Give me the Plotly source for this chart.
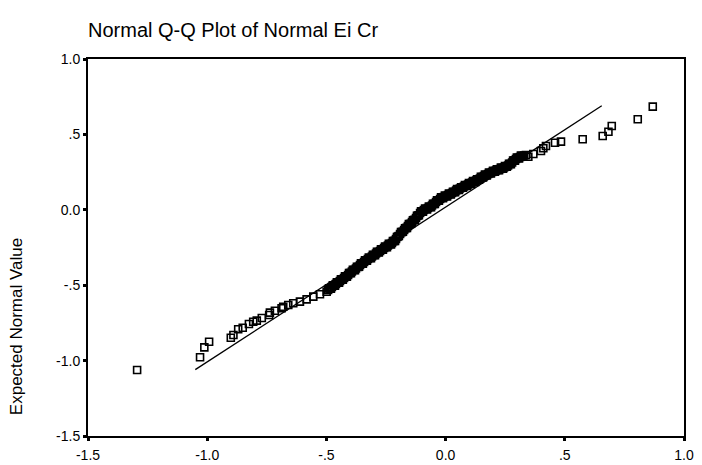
import plotly.graph_objects as go

obs_x = [
    -1.294, -1.030, -1.012, -0.992, -0.901, -0.890, -0.870, -0.851, -0.825, -0.807,
    -0.792, -0.771, -0.740, -0.737, -0.716, -0.688, -0.681, -0.660, -0.639, -0.611,
    -0.583, -0.555, -0.527, -0.499,
    -0.493, -0.485, -0.477, -0.468, -0.460, -0.451, -0.443,
    -0.435, -0.426, -0.418, -0.409, -0.401, -0.393, -0.384, -0.376, -0.367, -0.359,
    -0.351, -0.342, -0.334, -0.326, -0.317, -0.309, -0.300, -0.292, -0.284, -0.275,
    -0.267, -0.258, -0.250, -0.242, -0.233, -0.225,
    -0.216, -0.208, -0.200, -0.191, -0.183, -0.174,
    -0.166, -0.158, -0.149, -0.141, -0.133, -0.124, -0.116, -0.107,
    -0.099, -0.091, -0.082, -0.074, -0.065, -0.057, -0.049, -0.040, -0.032, -0.023, -0.015,
    -0.007, 0.002, 0.010, 0.018, 0.027, 0.035, 0.044, 0.052, 0.060, 0.069, 0.077, 0.086,
    0.094, 0.102, 0.111,
    0.119, 0.128, 0.136, 0.144, 0.153, 0.161, 0.169, 0.178, 0.186, 0.195, 0.203, 0.211,
    0.220, 0.228, 0.237, 0.245, 0.253,
    0.262, 0.270, 0.279, 0.287, 0.295, 0.304, 0.312, 0.320, 0.329, 0.337,
    0.347, 0.368, 0.400, 0.410, 0.421, 0.459, 0.484, 0.575, 0.659, 0.683, 0.697, 0.806, 0.869,
]
exp_y = [
    -1.062, -0.978, -0.912, -0.875, -0.848, -0.830, -0.792, -0.782, -0.757, -0.742,
    -0.735, -0.718, -0.698, -0.682, -0.669, -0.653, -0.643, -0.631, -0.620, -0.609,
    -0.594, -0.576, -0.560, -0.543,
    -0.532, -0.522, -0.512, -0.502, -0.492, -0.482, -0.472,
    -0.462, -0.452, -0.442, -0.432, -0.419, -0.409, -0.399, -0.389, -0.379, -0.366,
    -0.356, -0.346, -0.336, -0.326, -0.320, -0.310, -0.300, -0.290, -0.280, -0.273,
    -0.263, -0.253, -0.247, -0.237, -0.227, -0.220,
    -0.207, -0.194, -0.177, -0.160, -0.147, -0.134,
    -0.121, -0.107, -0.094, -0.081, -0.068, -0.054, -0.038, -0.021,
    -0.011, -0.001, 0.005, 0.012, 0.019, 0.029, 0.038, 0.052, 0.062, 0.072, 0.082,
    0.085, 0.092, 0.098, 0.105, 0.111, 0.118, 0.128, 0.135, 0.141, 0.148, 0.155, 0.161,
    0.168, 0.174, 0.181,
    0.188, 0.194, 0.201, 0.208, 0.218, 0.224, 0.231, 0.237, 0.244, 0.251, 0.254, 0.261,
    0.264, 0.271, 0.277, 0.281, 0.287,
    0.294, 0.304, 0.314, 0.327, 0.337, 0.344, 0.350, 0.357, 0.360, 0.363,
    0.352, 0.370, 0.390, 0.408, 0.423, 0.445, 0.452, 0.468, 0.489, 0.518, 0.556, 0.600, 0.684,
]

# Further observations packed inside the dense central band
band_x = [
    -0.489, -0.481, -0.473, -0.464, -0.456, -0.447,
    -0.439, -0.431, -0.422, -0.414, -0.405, -0.397, -0.389, -0.380, -0.372, -0.363,
    -0.355, -0.347, -0.338, -0.330, -0.322, -0.313, -0.305, -0.296, -0.288, -0.280,
    -0.271, -0.263, -0.254, -0.246, -0.238, -0.229,
    -0.221, -0.212, -0.204, -0.196, -0.187, -0.179,
    -0.170, -0.162, -0.154, -0.145, -0.137, -0.129, -0.120, -0.112,
    -0.103, -0.095, -0.086, -0.078, -0.070, -0.061, -0.053, -0.045, -0.036, -0.028, -0.019,
    -0.011, -0.003, 0.006, 0.014, 0.022, 0.031, 0.040, 0.048, 0.056, 0.065, 0.073, 0.081,
    0.090, 0.098, 0.106,
    0.115, 0.124, 0.132, 0.140, 0.148, 0.157, 0.165, 0.173, 0.182, 0.190, 0.199, 0.207,
    0.215, 0.224, 0.232, 0.241, 0.249,
    0.257, 0.266, 0.274, 0.283, 0.291, 0.299, 0.308, 0.316, 0.324,
]
band_y = [
    -0.521, -0.523, -0.501, -0.503, -0.481, -0.483,
    -0.461, -0.463, -0.441, -0.443, -0.419, -0.420, -0.398, -0.400, -0.378, -0.378,
    -0.355, -0.357, -0.335, -0.337, -0.317, -0.321, -0.299, -0.301, -0.279, -0.282,
    -0.262, -0.264, -0.244, -0.248, -0.226, -0.229,
    -0.208, -0.206, -0.180, -0.174, -0.148, -0.146,
    -0.122, -0.120, -0.095, -0.093, -0.069, -0.067, -0.040, -0.036,
    -0.010, -0.012, 0.008, 0.002, 0.021, 0.018, 0.040, 0.039, 0.063, 0.061, 0.083,
    0.077, 0.094, 0.089, 0.107, 0.102, 0.120, 0.117, 0.137, 0.132, 0.150, 0.146, 0.164,
    0.158, 0.177, 0.172,
    0.190, 0.185, 0.203, 0.199, 0.219, 0.215, 0.234, 0.228, 0.247, 0.241, 0.258, 0.252,
    0.268, 0.262, 0.280, 0.273, 0.290,
    0.285, 0.305, 0.303, 0.326, 0.326, 0.346, 0.341, 0.359, 0.353,
]
assert len(obs_x) == len(exp_y) and len(band_x) == len(band_y)

# Reference line endpoints
line_x = [-1.05, 0.655]
line_y = [-1.06, 0.69]

tick_vals = [-1.5, -1.0, -0.5, 0.0, 0.5, 1.0]
tick_text = ["-1.5", "-1.0", "-.5", "0.0", ".5", "1.0"]

FONT = "Liberation Sans, Arial, sans-serif"

fig = go.Figure()
fig.add_trace(go.Scatter(
    x=line_x, y=line_y, mode="lines",
    line=dict(color="black", width=1.3),
    hoverinfo="skip", showlegend=False,
))
fig.add_trace(go.Scatter(
    x=obs_x + band_x, y=exp_y + band_y, mode="markers",
    marker=dict(symbol="square-open", size=7, color="black",
                line=dict(color="black", width=1.6)),
    showlegend=False,
))

axis_common = dict(
    showline=True, linecolor="black", linewidth=2, mirror=True,
    showgrid=False, zeroline=False, automargin=False,
    ticks="outside", ticklen=3, tickwidth=2.5, tickcolor="black",
    tickvals=tick_vals, ticktext=tick_text,
    tickfont=dict(family=FONT, size=14, color="black"),
)

fig.update_layout(
    width=702, height=465,
    margin=dict(l=88, r=18, t=59, b=29),
    paper_bgcolor="white", plot_bgcolor="white",
    title=dict(
        text="Normal Q-Q Plot of Normal Ei Cr",
        font=dict(family=FONT, size=20, color="black"),
        xref="container", x=88 / 702, xanchor="left",
        yref="container", y=1 - 30 / 465, yanchor="middle",
    ),
    xaxis=dict(range=[-1.5, 1.0], ticklabelstandoff=2, **axis_common),
    yaxis=dict(range=[-1.5, 1.0], **axis_common),
    annotations=[dict(
        text="Expected Normal Value", textangle=-90,
        xref="paper", yref="paper", x=-0.12, y=0.29,
        xanchor="center", yanchor="middle", showarrow=False,
        font=dict(family=FONT, size=17, color="black"),
    )],
)

fig.write_html("out.html")
